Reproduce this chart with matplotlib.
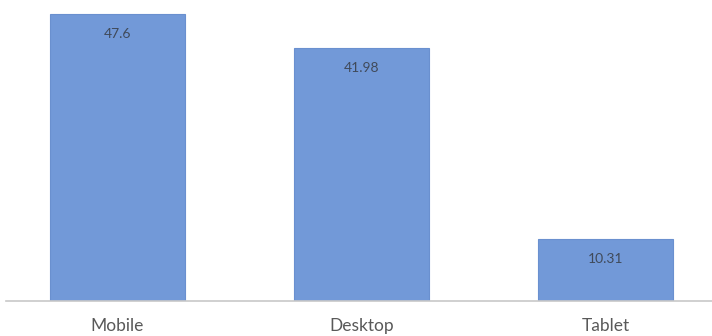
import matplotlib.pyplot as plt

# data
categories = ["Mobile", "Desktop", "Tablet"]
shares = [47.6, 41.98, 10.31]
labels = ["47.6", "41.98", "10.31"]

plt.rcParams['font.family'] = ['Lato', 'DejaVu Sans']

fig = plt.figure(figsize=(7.12, 3.36), dpi=100)
ax = fig.add_axes([6 / 712, 35 / 336, 706 / 712, 301 / 336])

x = range(len(categories))
bars = ax.bar(x, shares, width=0.555, color="#7299d8", edgecolor="#6a90cf", linewidth=0.8)

for b, lab in zip(bars, labels):
    ax.text(b.get_x() + b.get_width() / 2, b.get_height() - 3.3, lab,
            ha="center", va="center", fontsize=10, color="#404a5a")

ax.set_xlim(-0.456, 2.436)
ax.set_ylim(0, 50)
ax.set_xticks(list(x))
ax.set_xticklabels(categories, fontsize=12.5, color="#595959")
ax.tick_params(axis="x", length=0, pad=12.5)
ax.set_yticks([])

for s in ["top", "right", "left"]:
    ax.spines[s].set_visible(False)
ax.spines["bottom"].set_color("#c8c8c8")
ax.spines["bottom"].set_linewidth(1.2)

fig.savefig("out.png", dpi=100)
